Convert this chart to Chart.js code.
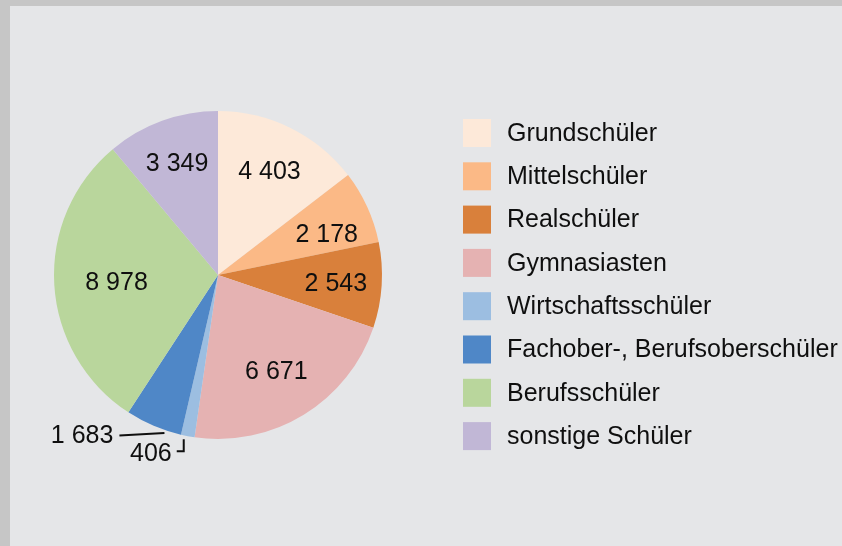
<!DOCTYPE html>
<html>
<head>
<meta charset="utf-8">
<script src="https://cdn.jsdelivr.net/npm/chart.js@4/dist/chart.umd.min.js"></script>
<style>
  html, body { margin: 0; padding: 0; background: #c6c6c6; }
  #wrap { width: 842px; height: 546px; position: relative; }
  canvas { display: block; }
</style>
</head>
<body>
<div id="wrap"><canvas id="c" width="842" height="546"></canvas></div>
<script>
const categories = [
  'Grundschüler',
  'Mittelschüler',
  'Realschüler',
  'Gymnasiasten',
  'Wirtschaftsschüler',
  'Fachober-, Berufsoberschüler',
  'Berufsschüler',
  'sonstige Schüler'
];
const values = [4403, 2178, 2543, 6671, 406, 1683, 8978, 3349];
const valueLabels = ['4 403', '2 178', '2 543', '6 671', '406', '1 683', '8 978', '3 349'];
const colors = ['#fde9d9', '#fbb986', '#d9803b', '#e5b2b2', '#9cbee1', '#4f87c7', '#b9d69c', '#c1b7d6'];

const FONT = '25px "Liberation Sans", Arial, sans-serif';
const TEXT = '#0f0f0f';

const bgPlugin = {
  id: 'bg',
  beforeDraw(chart) {
    const ctx = chart.ctx;
    ctx.save();
    ctx.fillStyle = '#c6c6c6';
    ctx.fillRect(0, 0, chart.width, chart.height);
    ctx.fillStyle = '#e5e6e8';
    ctx.fillRect(10, 6, chart.width - 10, chart.height - 6);
    ctx.restore();
  }
};

const labelPlugin = {
  id: 'sliceLabels',
  afterDatasetsDraw(chart, args, opts) {
    const ctx = chart.ctx;
    const meta = chart.getDatasetMeta(0);
    const radial = opts.radial;
    ctx.save();
    ctx.font = FONT;
    ctx.fillStyle = TEXT;
    ctx.strokeStyle = TEXT;
    ctx.lineWidth = 2;
    ctx.textBaseline = 'middle';
    meta.data.forEach((arc, i) => {
      const p = arc.getProps(['x', 'y', 'startAngle', 'endAngle', 'outerRadius'], true);
      const mid = (p.startAngle + p.endAngle) / 2 + (opts.shift[i] || 0) * Math.PI / 180;
      const txt = valueLabels[i];
      if (opts.leader[i] === 'down') {
        const ex = p.x + p.outerRadius * Math.cos(mid) - 4;
        const ey = p.y + p.outerRadius * Math.sin(mid) + 3;
        ctx.beginPath();
        ctx.moveTo(ex, ey);
        ctx.lineTo(ex, ey + 12);
        ctx.lineTo(ex - 7, ey + 12);
        ctx.stroke();
        ctx.textAlign = 'right';
        ctx.fillText(txt, ex - 12, ey + 15);
      } else if (opts.leader[i] === 'left') {
        const a = p.startAngle + 0.3 * (p.endAngle - p.startAngle);
        const ex = p.x + p.outerRadius * Math.cos(a);
        const ey = p.y + p.outerRadius * Math.sin(a) + 3;
        ctx.beginPath();
        ctx.moveTo(ex, ey);
        ctx.lineTo(ex - 45, ey + 2.5);
        ctx.stroke();
        ctx.textAlign = 'right';
        ctx.fillText(txt, ex - 51, ey + 3);
      } else {
        const r = p.outerRadius * radial[i];
        ctx.textAlign = 'center';
        ctx.fillText(txt, p.x + r * Math.cos(mid), p.y + r * Math.sin(mid) + 2);
      }
    });
    ctx.restore();
  }
};

const legendPlugin = {
  id: 'customLegend',
  afterDraw(chart, args, opts) {
    const ctx = chart.ctx;
    ctx.save();
    ctx.font = FONT;
    ctx.textBaseline = 'middle';
    ctx.textAlign = 'left';
    categories.forEach((c, i) => {
      const cy = opts.y0 + i * opts.step;
      ctx.fillStyle = colors[i];
      ctx.fillRect(opts.x0, cy - 14, 28, 28);
      ctx.fillStyle = TEXT;
      ctx.fillText(c, opts.x0 + 44, cy + 1);
    });
    ctx.restore();
  }
};

new Chart(document.getElementById('c'), {
  type: 'pie',
  data: {
    labels: categories,
    datasets: [{
      data: values,
      backgroundColor: colors,
      borderWidth: 0
    }]
  },
  options: {
    responsive: false,
    animation: false,
    layout: { padding: { left: 54, right: 460, top: 111, bottom: 107 } },
    plugins: {
      legend: { display: false },
      tooltip: { enabled: false },
      sliceLabels: {
        radial: [0.71, 0.71, 0.72, 0.68, 0, 0, 0.62, 0.73],
        shift: [0, 3.5, 0, 0, 0, 0, 0, 0],
        leader: [null, null, null, null, 'down', 'left', null, null]
      },
      customLegend: { x0: 463, y0: 133, step: 43.3 }
    }
  },
  plugins: [bgPlugin, labelPlugin, legendPlugin]
});
</script>
</body>
</html>
